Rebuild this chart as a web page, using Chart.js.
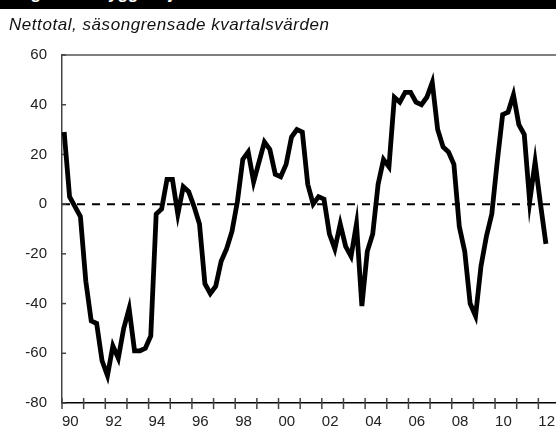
<!DOCTYPE html>
<html>
<head>
<meta charset="utf-8">
<title>Nettotal, säsongrensade kvartalsvärden</title>
<script src="https://cdn.jsdelivr.net/npm/chart.js"></script>
<style>
  html, body { margin: 0; padding: 0; background: #fff; overflow: hidden; width: 556px; height: 432px; }
  #wrap { position: relative; width: 556px; height: 432px; overflow: hidden; }
  #topbar { position: absolute; left: 0; top: 0; width: 556px; height: 9px; background: #000; overflow: hidden; }
  #topbar span { position: absolute; left: 4px; top: -16px; color: #fff; font: bold 17px "Liberation Sans", Arial, sans-serif; white-space: nowrap; }
  #subtitle { position: absolute; left: 9px; top: 15px; font: italic 17px "Liberation Sans", Arial, sans-serif; letter-spacing: 0.55px; color: #111; white-space: nowrap; }
  #chartBox { position: absolute; left: 0; top: 0; width: 570px; height: 432px; }
</style>
</head>
<body>
<div id="wrap">
  <div id="chartBox"><canvas id="chart" width="570" height="432"></canvas></div>
  <div id="topbar"><span>Diagram 4. Byggkonjunkturen</span></div>
  <div id="subtitle">Nettotal, säsongrensade kvartalsvärden</div>
</div>
<script>
// quarterly net balance, 1990 Q1 onwards
const startYear = 1990;
const values = [
  29, 3, -1, -5, -31, -47, -48, -63, -69, -57, -62, -50, -42, -59, -59, -58,
  -53, -4, -2, 10, 10, -4, 7, 5, -1, -8, -32, -36, -33, -23, -18, -11,
  1, 18, 21, 9, 17, 25, 22, 12, 11, 16, 27, 30, 29, 8, 0, 3,
  2, -12, -18, -8, -17, -21, -8, -41, -19, -12, 8, 18, 15, 43, 41, 45,
  45, 41, 40, 43, 49, 30, 23, 21, 16, -9, -19, -40, -45, -25, -13, -4,
  17, 36, 37, 44, 32, 28, 1, 17, 0, -16
];
const yTicks = [-80, -60, -40, -20, 0, 20, 40, 60];
const refLevel = 0;

const points = values.map((v, i) => ({ x: startYear + i / 4 + 0.1, y: v }));
const labelFont = { family: "'Liberation Sans', Arial, sans-serif", size: 15 };

const frame = {
  id: 'frame',
  beforeDatasetsDraw(chart) {
    const { ctx, chartArea: a, scales: { x, y } } = chart;
    ctx.save();
    // dashed zero line
    ctx.strokeStyle = '#000';
    ctx.lineWidth = 2;
    ctx.setLineDash([8, 7]);
    const yz = y.getPixelForValue(refLevel);
    ctx.beginPath(); ctx.moveTo(a.left, yz); ctx.lineTo(a.right, yz); ctx.stroke();
    ctx.setLineDash([]);
    // top border
    ctx.strokeStyle = '#555';
    ctx.lineWidth = 1.5;
    ctx.beginPath(); ctx.moveTo(a.left, a.top); ctx.lineTo(a.right, a.top); ctx.stroke();
    // year ticks crossing the x axis
    ctx.strokeStyle = '#444';
    x.ticks.forEach(t => {
      const px = x.getPixelForValue(t.value);
      ctx.beginPath(); ctx.moveTo(px, a.bottom - 5); ctx.lineTo(px, a.bottom + 6); ctx.stroke();
    });
    // small inward ticks on y axis
    y.ticks.forEach(t => {
      const py = y.getPixelForValue(t.value);
      ctx.beginPath(); ctx.moveTo(a.left, py); ctx.lineTo(a.left + 4, py); ctx.stroke();
    });
    ctx.restore();
  }
};

new Chart(document.getElementById('chart'), {
  type: 'line',
  data: {
    datasets: [{
      data: points,
      borderColor: '#000',
      borderWidth: 4.8,
      pointRadius: 0,
      tension: 0,
      borderJoinStyle: 'miter',
      clip: false
    }]
  },
  options: {
    responsive: false,
    animation: false,
    layout: { padding: { top: 55, left: 0, right: 2, bottom: 0 } },
    plugins: { legend: { display: false }, tooltip: { enabled: false } },
    scales: {
      x: {
        type: 'linear',
        min: 1990,
        max: 2013,
        afterFit(s) { s.height = 29; },
        afterBuildTicks(s) {
          const t = [];
          for (let v = 1990; v <= 2013; v++) t.push({ value: v });
          s.ticks = t;
        },
        ticks: {
          autoSkip: false,
          maxRotation: 0,
          align: 'start',
          padding: 10,
          color: '#222',
          font: labelFont,
          callback: v => (v % 2 === 0 ? String(v % 100).padStart(2, '0') : '')
        },
        grid: { drawOnChartArea: false, drawTicks: false },
        border: { display: true, color: '#000', width: 1.5 }
      },
      y: {
        min: -80,
        max: 60,
        afterFit(s) { s.width = 62; },
        afterBuildTicks(s) { s.ticks = yTicks.map(v => ({ value: v })); },
        ticks: { padding: 15, color: '#222', font: labelFont },
        grid: { drawOnChartArea: false, drawTicks: false },
        border: { display: true, color: '#444', width: 1.5 }
      }
    }
  },
  plugins: [frame]
});
</script>
</body>
</html>
